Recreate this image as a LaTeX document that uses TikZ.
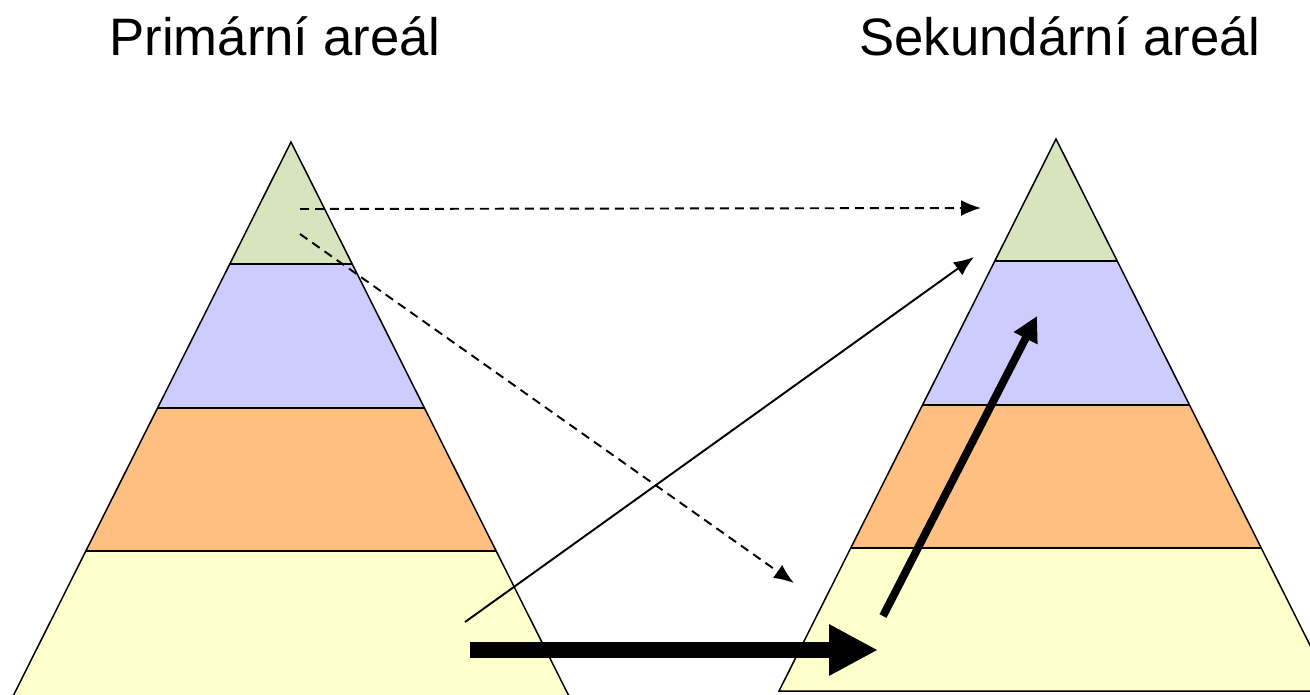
\documentclass[tikz,border=0pt]{standalone}
\usepackage{fontspec}
\setmainfont{Liberation Sans}
\usetikzlibrary{arrows.meta}

\definecolor{lvlA}{HTML}{D7E4BD}
\definecolor{lvlB}{HTML}{CCCCFF}
\definecolor{lvlC}{HTML}{FFBF80}
\definecolor{lvlD}{HTML}{FFFFCC}

\begin{document}
\begin{tikzpicture}[x=0.02cm, y=-0.02cm, edge/.style={line width=0.85pt}, title/.style={anchor=base, font=\fontsize{30}{36}\selectfont}, dasharrow/.style={-{Latex[length=4mm, width=3.2mm]}, line width=1.1pt, dash pattern=on 0.18cm off 0.12cm}, thinarrow/.style={-{Latex[length=4mm, width=3.2mm]}, line width=1.1pt}, fatarrow/.style={-{Triangle[length=9.8mm, width=9.6mm]}, line width=9pt}, midarrow/.style={-{Triangle[length=5mm, width=5mm]}, line width=4.5pt}]
      \useasboundingbox (0,0) rectangle (1310,694);
      \node[title] (titleL) at (275,55) {Primární areál};
      \node[title] (titleR) at (1060,55) {Sekundární areál};

      % left pyramid
      \begin{scope}
        \clip (291,142) -- (291-301,742) -- (291+301,742) -- cycle;
        \fill[lvlA] (0,142) rectangle (600,264);
        \fill[lvlB] (0,264) rectangle (600,408);
        \fill[lvlC] (0,408) rectangle (600,551);
        \fill[lvlD] (0,551) rectangle (600,742);
        \draw[edge] (0,264) -- (600,264) (0,408) -- (600,408) (0,551) -- (600,551);
      \end{scope}
      \draw[edge] (291-301,742) -- (291,142) -- (291+301,742);

      % right pyramid
      \begin{scope}
        \clip (1056,139) -- (1056-277,691) -- (1056+277,691) -- cycle;
        \fill[lvlA] (760,139) rectangle (1340,261);
        \fill[lvlB] (760,261) rectangle (1340,405);
        \fill[lvlC] (760,405) rectangle (1340,548);
        \fill[lvlD] (760,548) rectangle (1340,691);
        \draw[edge] (760,261) -- (1340,261) (760,405) -- (1340,405) (760,548) -- (1340,548);
      \end{scope}
      \draw[edge] (1056,139) -- (1056-277,691) -- (1056+277,691) -- cycle;

      % arrows
      \coordinate (topA) at (300,209); \coordinate (topB) at (300,234);
      \coordinate (baseA) at (465,622); \coordinate (baseB) at (470,650);
      \coordinate (tgtTop) at (981,208); \coordinate (tgtBase) at (794,583);
      \coordinate (tgtB) at (974,257); \coordinate (tgtD) at (878,650);
      \coordinate (srcD) at (883,616); \coordinate (tgtC) at (1037,316);
      \draw[dasharrow] (topA) -- (tgtTop); \draw[dasharrow] (topB) --
      (tgtBase); \draw[thinarrow] (baseA) -- (tgtB); \draw[fatarrow] (baseB)
      -- (tgtD); \draw[midarrow] (srcD) -- (tgtC);
    \end{tikzpicture}
\end{document}
